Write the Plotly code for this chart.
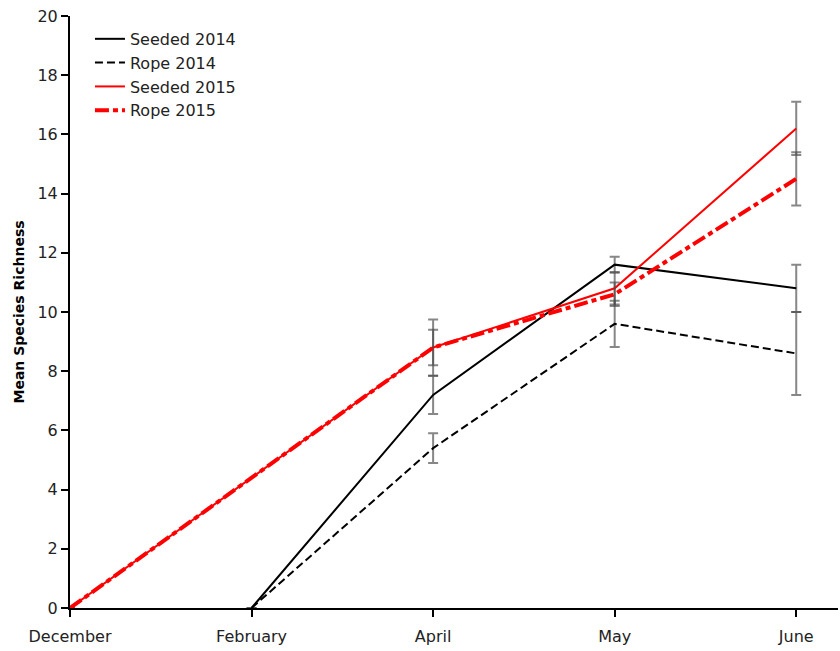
import plotly.graph_objects as go

months = ["December", "February", "April", "May", "June"]

seeded14_x = [1, 2, 3, 4]
seeded14_y = [0, 7.2, 11.6, 10.8]
seeded14_err = [0, 0.65, 0.27, 0.8]

rope14_x = [1, 2, 3, 4]
rope14_y = [0, 5.4, 9.6, 8.6]
rope14_err = [0, 0.5, 0.78, 1.4]

seeded15_x = [0, 2, 3, 4]
seeded15_y = [0, 8.8, 10.8, 16.2]
seeded15_err = [0, 0.95, 0.55, 0.9]

rope15_x = [0, 2, 3, 4]
rope15_y = [0, 8.8, 10.6, 14.5]
rope15_err = [0, 0.6, 0.4, 0.9]

FONT = "DejaVu Sans"
ERR_COLOR = "rgba(70,70,70,0.65)"

def err(vals):
    return dict(type="data", array=vals, visible=True, color=ERR_COLOR, thickness=2, width=5)

fig = go.Figure()
fig.add_trace(go.Scatter(x=seeded14_x, y=seeded14_y, name="Seeded 2014", mode="lines",
                         line=dict(color="black", width=2), error_y=err(seeded14_err)))
fig.add_trace(go.Scatter(x=rope14_x, y=rope14_y, name="Rope 2014", mode="lines",
                         line=dict(color="black", width=2, dash="8px,4px"), error_y=err(rope14_err)))
fig.add_trace(go.Scatter(x=seeded15_x, y=seeded15_y, name="Seeded 2015", mode="lines",
                         line=dict(color="red", width=2), error_y=err(seeded15_err)))
fig.add_trace(go.Scatter(x=rope15_x, y=rope15_y, name="Rope 2015", mode="lines",
                         line=dict(color="red", width=4, dash="14px,4px,5px,4px"), error_y=err(rope15_err)))

fig.update_layout(
    width=840, height=651,
    margin=dict(l=70, r=2, t=16, b=43),
    paper_bgcolor="white", plot_bgcolor="white",
    font=dict(family=FONT, size=16, color="#222"),
    showlegend=True,
    legend=dict(x=0.026, y=0.99, xanchor="left", yanchor="top",
                bgcolor="rgba(0,0,0,0)", font=dict(size=16, color="#222"),
                tracegroupgap=0),
    xaxis=dict(range=[0, 4.23], tickvals=[0, 1, 2, 3, 4], ticktext=months,
               showgrid=False, zeroline=False, showline=True, linecolor="black", linewidth=2,
               ticks="outside", ticklen=7, tickwidth=2, tickcolor="black", automargin=False,
               ticklabelstandoff=6),
    yaxis=dict(range=[0, 20], dtick=2, showgrid=False, zeroline=False,
               showline=True, linecolor="black", linewidth=2,
               ticks="outside", ticklen=7, tickwidth=2, tickcolor="black", automargin=False,
               title=dict(text="<b>Mean Species Richness</b>", font=dict(size=14, color="black"),
                          standoff=10)),
)

fig.write_html("out.html")
